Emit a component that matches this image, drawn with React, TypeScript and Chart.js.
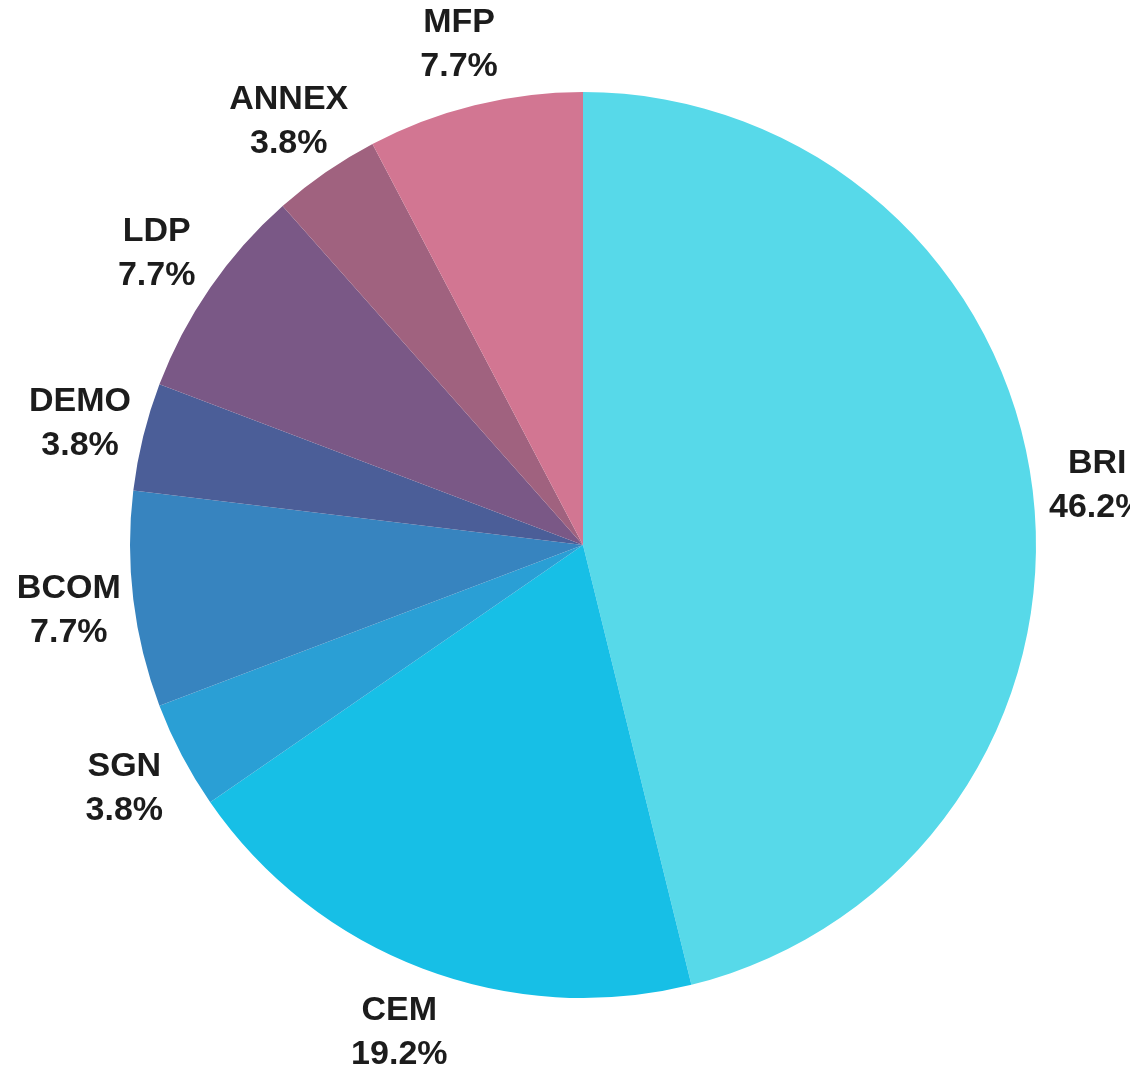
import React, { useEffect, useRef } from "react";
import { Chart, registerables } from "chart.js";

Chart.register(...registerables);

const categories = ["BRI", "CEM", "SGN", "BCOM", "DEMO", "LDP", "ANNEX", "MFP"];
const counts = [12, 5, 1, 2, 1, 2, 1, 2];
const percentLabels = ["46.2%", "19.2%", "3.8%", "7.7%", "3.8%", "7.7%", "3.8%", "7.7%"];
const sliceColors = ["#57d9e9", "#17bfe6", "#2a9fd5", "#3784bf", "#4b5e98", "#7a5886", "#a0627f", "#d27692"];

const labelPlugin = {
  id: "outerLabels",
  afterDraw(chart: any) {
    const ctx = chart.ctx;
    const meta = chart.getDatasetMeta(0);
    ctx.save();
    ctx.font = "bold 34px 'Liberation Sans', Arial, sans-serif";
    ctx.fillStyle = "#1c1c1c";
    ctx.textAlign = "center";
    ctx.textBaseline = "middle";
    meta.data.forEach((arc: any, i: number) => {
      const p = arc.getProps(["x", "y", "startAngle", "endAngle", "outerRadius"], true);
      const mid = (p.startAngle + p.endAngle) / 2;
      const d = p.outerRadius + 65;
      const x = p.x + Math.cos(mid) * d;
      const y = p.y + Math.sin(mid) * d + 3;
      ctx.fillText(categories[i], x, y - 22);
      ctx.fillText(percentLabels[i], x, y + 22);
    });
    ctx.restore();
  },
};

export default function App() {
  const ref = useRef<HTMLCanvasElement | null>(null);
  useEffect(() => {
    if (!ref.current) return;
    const chart = new Chart(ref.current, {
      type: "pie",
      data: {
        labels: categories,
        datasets: [
          {
            data: counts,
            backgroundColor: sliceColors,
            borderWidth: 0,
          },
        ],
      },
      options: {
        responsive: false,
        animation: false,
        layout: { padding: { left: 130, right: 94, top: 92, bottom: 76 } },
        plugins: {
          legend: { display: false },
          tooltip: { enabled: false },
          title: { display: false },
        },
      },
      plugins: [labelPlugin],
    });
    return () => chart.destroy();
  }, []);
  return (
    <div style={{ position: "absolute", left: 0, top: 0, width: 1130, height: 1074, background: "#ffffff" }}>
      <canvas ref={ref} width={1130} height={1074} style={{ display: "block" }} />
    </div>
  );
}
